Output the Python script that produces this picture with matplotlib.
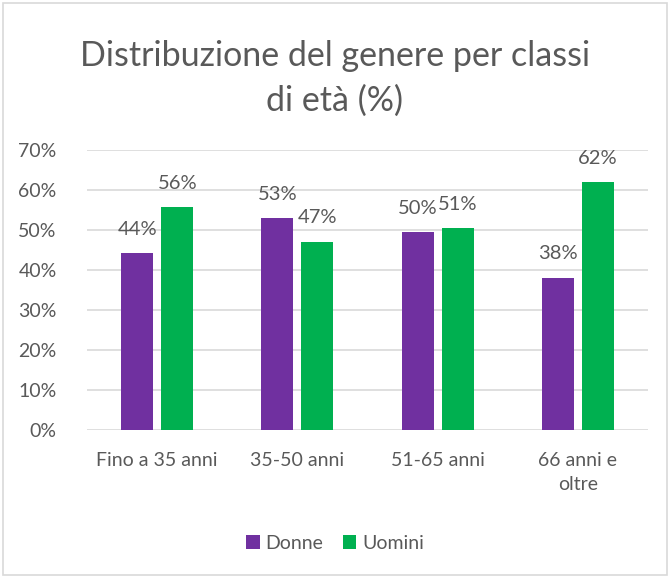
import numpy as np
import matplotlib.pyplot as plt
from matplotlib.patches import Rectangle

plt.rcParams['font.family'] = ['Lato', 'DejaVu Sans']

# dati
categorie = ['Fino a 35 anni', '35-50 anni', '51-65 anni', '66 anni e\noltre']
donne = [44.3, 52.9, 49.5, 38.1]
uomini = [55.7, 47.1, 50.5, 61.9]
etichette_donne = ['44%', '53%', '50%', '38%']
etichette_uomini = ['56%', '47%', '51%', '62%']

viola = '#7030A0'
verde = '#00B050'
grigio_testo = '#595959'

fig = plt.figure(figsize=(6.7, 5.77), dpi=100)
ax = fig.add_axes([0.13, 0.2548, 0.837, 0.4852])

x = np.arange(len(categorie))
w = 0.228
off = 0.143
b1 = ax.bar(x - off, donne, w, color=viola, label='Donne', zorder=3)
b2 = ax.bar(x + off, uomini, w, color=verde, label='Uomini', zorder=3)

for bars, labs in [(b1, etichette_donne), (b2, etichette_uomini)]:
    for b, t in zip(bars, labs):
        ax.annotate(t, (b.get_x() + b.get_width() / 2, b.get_height()),
                    xytext=(0, 11), textcoords='offset points',
                    ha='center', va='bottom', fontsize=14.5, color=grigio_testo)

ax.set_xlim(-0.5, len(categorie) - 0.5)
ax.set_ylim(0, 70)
ax.set_yticks(range(0, 71, 10))
ax.set_yticklabels([f'{v}%' for v in range(0, 71, 10)])
ax.set_xticks(x)
ax.set_xticklabels(categorie, linespacing=1.5)
ax.tick_params(length=0, labelsize=14, colors=grigio_testo)
ax.tick_params(axis='x', pad=16)
ax.tick_params(axis='y', pad=22)
ax.grid(axis='y', color='#D9D9D9', linewidth=1.2, zorder=0)
for s in ax.spines.values():
    s.set_visible(False)

fig.suptitle('Distribuzione del genere per classi\ndi età (%)', y=0.93,
             fontsize=24.5, color=grigio_testo, linespacing=1.45)

leg = fig.legend(loc='center', bbox_to_anchor=(0.5, 0.058), ncol=2, frameon=False,
                 fontsize=14, handlelength=0.7, handleheight=0.7, handletextpad=0.3,
                 columnspacing=1.0, labelcolor=grigio_testo)

fig.patches.append(Rectangle((0.004, 0.003), 0.992, 0.991, transform=fig.transFigure,
                             fill=False, edgecolor='#D9D9D9', linewidth=1.2))

fig.savefig('out.png', dpi=100)
